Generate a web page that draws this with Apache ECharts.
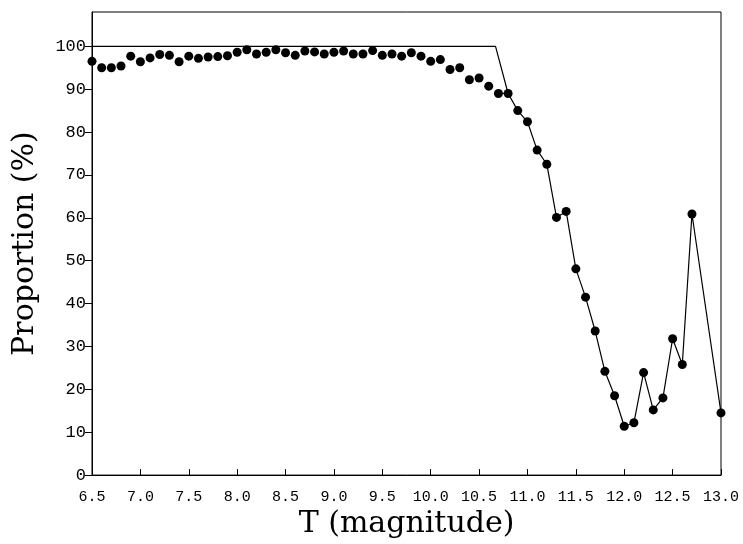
<!DOCTYPE html>
<html>
<head>
<meta charset="utf-8">
<script src="https://cdn.jsdelivr.net/npm/echarts@6/dist/echarts.min.js"></script>
<style>
  html, body { margin: 0; padding: 0; background: #fff; }
  #chart { width: 743px; height: 544px; }
</style>
</head>
<body>
<div id="chart"></div>
<script>
// Magnitude bins (T) and measured proportion (%) in each bin
const magnitudes = [
  6.5, 6.6, 6.7, 6.8, 6.9, 7.0, 7.1, 7.2, 7.3, 7.4,
  7.5, 7.6, 7.7, 7.8, 7.9, 8.0, 8.1, 8.2, 8.3, 8.4,
  8.5, 8.6, 8.7, 8.8, 8.9, 9.0, 9.1, 9.2, 9.3, 9.4,
  9.5, 9.6, 9.7, 9.8, 9.9, 10.0, 10.1, 10.2, 10.3, 10.4,
  10.5, 10.6, 10.7, 10.8, 10.9, 11.0, 11.1, 11.2, 11.3, 11.4,
  11.5, 11.6, 11.7, 11.8, 11.9, 12.0, 12.1, 12.2, 12.3, 12.4,
  12.5, 12.6, 12.7, 13.0
];
const proportions = [
  96.5, 95.0, 95.0, 95.4, 97.7, 96.4, 97.3, 98.1, 97.9, 96.4,
  97.7, 97.2, 97.5, 97.6, 97.8, 98.6, 99.2, 98.2, 98.6, 99.2,
  98.5, 97.9, 98.9, 98.7, 98.2, 98.6, 98.9, 98.2, 98.2, 99.0,
  97.9, 98.2, 97.7, 98.5, 97.7, 96.5, 96.9, 94.6, 95.0, 92.2,
  92.6, 90.7, 89.0, 89.0, 85.0, 82.4, 75.8, 72.5, 60.1, 61.5,
  48.1, 41.5, 33.6, 24.2, 18.5, 11.4, 12.2, 23.9, 15.2, 18.0,
  31.8, 25.8, 60.9, 14.5
];
// Points from which the connecting line is drawn
const lineStart = 10.7;

// Reference completeness line: flat at 100 %, then falling onto the data
const refX = [6.5, 10.67, 10.8];
const refY = [100, 100, 89.0];

// Axis ticks
const xTicks = [6.5, 7.0, 7.5, 8.0, 8.5, 9.0, 9.5, 10.0, 10.5, 11.0, 11.5, 12.0, 12.5, 13.0];
const yTicks = [0, 10, 20, 30, 40, 50, 60, 70, 80, 90, 100];

const points = magnitudes.map((m, i) => [m, proportions[i]]);
const tail = points.filter(p => p[0] >= lineStart - 1e-9);
const refLine = refX.map((x, i) => [x, refY[i]]);

const xTickFont = { fontFamily: 'Liberation Mono', fontSize: 15, color: '#000' };
const yTickFont = { fontFamily: 'Liberation Mono', fontSize: 17, color: '#000' };
const nameFont = { fontFamily: 'DejaVu Serif', fontSize: 30, color: '#000' };

const chart = echarts.init(document.getElementById('chart'), null, { renderer: 'canvas' });
chart.setOption({
  animation: false,
  backgroundColor: '#fff',
  grid: {
    left: 92, right: 22, top: 12, bottom: 63,
    show: true, borderColor: '#000', borderWidth: 1, backgroundColor: 'transparent'
  },
  xAxis: {
    type: 'value',
    min: xTicks[0], max: xTicks[xTicks.length - 1], interval: 0.5,
    name: 'T (magnitude)', nameLocation: 'middle', nameGap: 29,
    nameTextStyle: nameFont,
    axisLine: { show: true, lineStyle: { color: '#000', width: 1 } },
    axisTick: { show: true, inside: true, length: 6, lineStyle: { color: '#000' } },
    axisLabel: Object.assign({ margin: 14, formatter: v => v.toFixed(1) }, xTickFont),
    splitLine: { show: false }
  },
  yAxis: {
    type: 'value',
    min: yTicks[0], max: 108, interval: 10,
    name: 'Proportion (%)', nameLocation: 'middle', nameGap: 52, nameRotate: 90,
    nameTextStyle: nameFont,
    axisLine: { show: true, lineStyle: { color: '#000', width: 1 } },
    axisTick: { show: true, inside: false, length: 7, lineStyle: { color: '#000' } },
    axisLabel: Object.assign({ margin: 6, showMaxLabel: false,
      formatter: v => (yTicks.indexOf(v) >= 0 ? String(v) : '') }, yTickFont),
    splitLine: { show: false }
  },
  series: [
    {
      type: 'line', data: refLine, symbol: 'none', silent: true,
      lineStyle: { color: '#000', width: 1.2 }, z: 2
    },
    {
      type: 'line', data: tail, symbol: 'none', silent: true,
      lineStyle: { color: '#000', width: 1.2 }, z: 3
    },
    {
      type: 'scatter', data: points, symbol: 'circle', symbolSize: 9,
      itemStyle: { color: '#000', opacity: 1 }, z: 4
    }
  ]
});
</script>
</body>
</html>
